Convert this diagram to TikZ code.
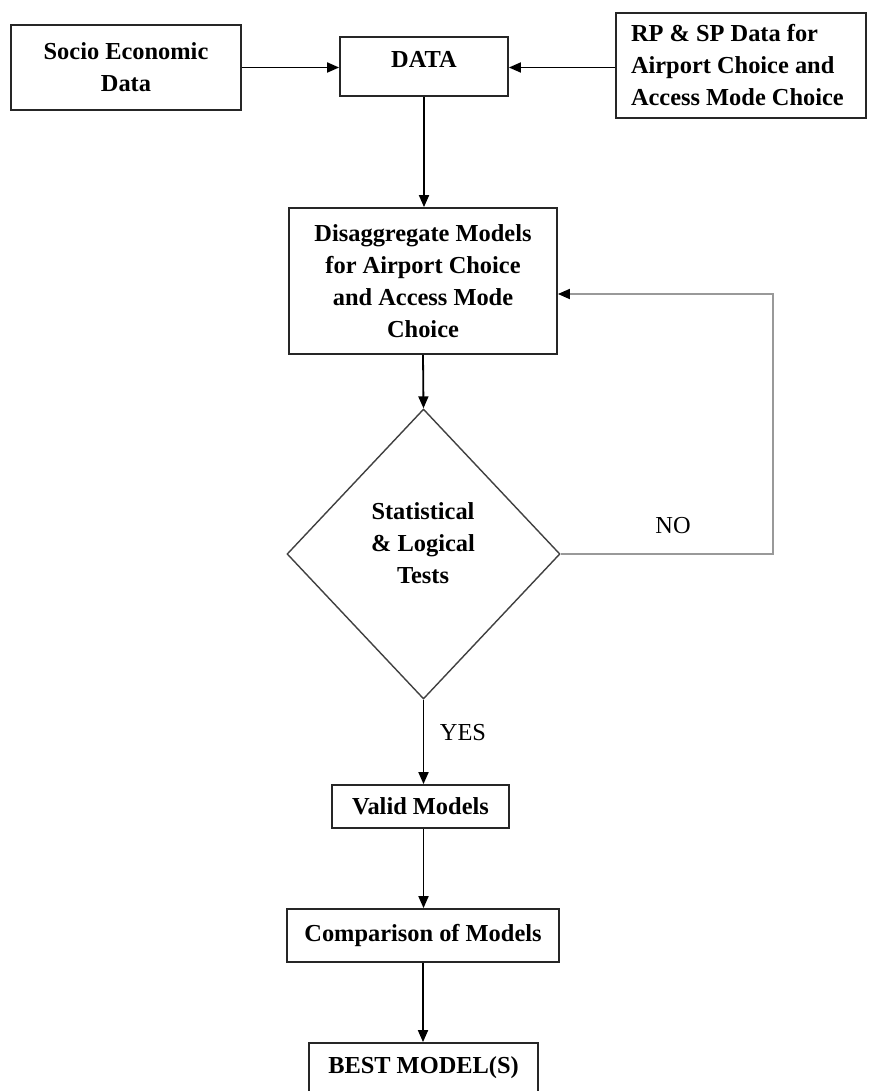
\documentclass[tikz,border=0pt]{standalone}
\usepackage{fontspec}
\setmainfont{Liberation Serif}
\usetikzlibrary{arrows.meta,shapes.geometric}
\begin{document}
\begin{tikzpicture}[x=0.5pt,y=-0.5pt,
  box/.style={draw=black!85,line width=0.9pt,rectangle,inner sep=0pt,align=center,
    font=\bfseries\fontsize{12.2}{16}\selectfont},
  dia/.style={draw=black!75,line width=0.7pt,diamond,inner sep=0pt,
    minimum width=136.5pt,minimum height=145pt},
  txt/.style={inner sep=0pt,align=center,font=\bfseries\fontsize{12.2}{16}\selectfont},
  lbl/.style={inner sep=0pt,font=\fontsize{12.2}{16}\selectfont},
  arr/.style={draw=black,line width=0.9pt,-{Triangle[length=6pt,width=5pt]}},
  fbk/.style={draw=black!40,line width=0.9pt,-{Triangle[length=6pt,width=5pt,color=black]}}]
\clip (0,0) rectangle (869,1091);
\fill[white] (0,0) rectangle (869,1091);

\node[box,minimum width=115pt,minimum height=42.5pt] (socio) at (126,67.5) {Socio Economic\\Data};
\node[box,minimum width=84pt,minimum height=29.5pt,text height=8pt,text depth=6.5pt] (data) at (424,66.5) {DATA};
\node[box,align=flush left,text width=110pt,inner xsep=7.5pt,minimum height=52.5pt] (rp) at (741,65.5)
  {RP \& SP Data for\\Airport Choice and\\Access Mode Choice};
\node[box,minimum width=134pt,minimum height=73pt] (dis) at (423,281)
  {Disaggregate Models\\for Airport Choice\\and Access Mode\\Choice};
\node[dia] (test) at (423.5,554) {};
\node[txt] (testtext) at (423,543) {Statistical\\\& Logical\\Tests};
\node[box,minimum width=88.5pt,minimum height=21.5pt] (valid) at (420.5,806.5) {Valid Models};
\node[box,minimum width=136pt,minimum height=26.5pt] (comp) at (423,935.5) {Comparison of Models};
\node[box,minimum width=114.5pt,minimum height=25pt] (best) at (423.5,1068) {BEST MODEL(S)};

\node[lbl] (yes) at (463,733) {YES};
\node[lbl] (no) at (673,526) {NO};
\coordinate (fbc) at (773,294);

\draw[arr] (socio.east) -- (data.west |- socio.east);
\draw[arr] (rp.west |- socio.east) -- (data.east |- socio.east);
\draw[arr] (data.south) -- (data.south |- dis.north);
\draw[arr] (dis.south) -- (test.north);
\draw[arr] (test.south) -- (test.south |- valid.north);
\draw[arr] (test.south |- valid.south) -- (test.south |- comp.north);
\draw[arr] (comp.south) -- (comp.south |- best.north);
\draw[fbk] (test.east) -| (fbc) -- (dis.east |- fbc);
\end{tikzpicture}
\end{document}
